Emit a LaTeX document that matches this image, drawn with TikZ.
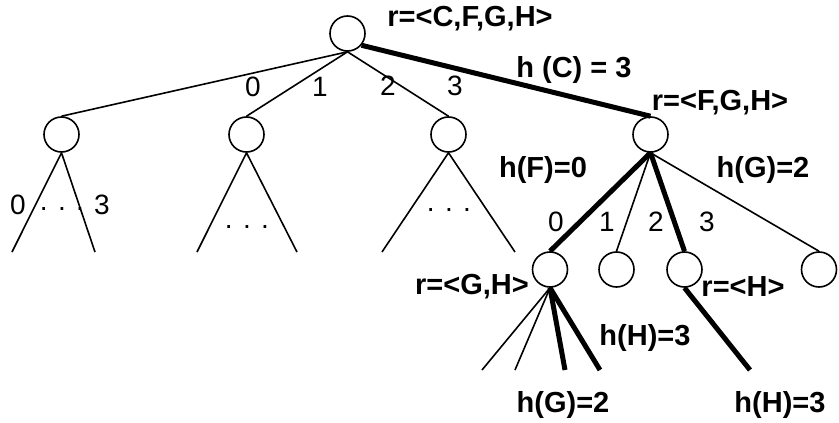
\documentclass[tikz,border=0pt]{standalone}
\usepackage{fontspec}
\setmainfont{Liberation Sans}
\begin{document}
\begin{tikzpicture}[x=1pt,y=-1pt,
  vert/.style={circle,draw,line width=1.6pt,minimum size=35pt,inner sep=0pt},
  branch/.style={line width=1.6pt},
  bestbranch/.style={line width=5pt},
  lbl/.style={font=\fontsize{29}{33}\selectfont\bfseries,inner sep=0pt},
  num/.style={font=\fontsize{28}{32}\selectfont,inner sep=0pt}]
\useasboundingbox (0,0) rectangle (839,423);

% search tree vertices
\node[vert] (root) at (347.5,33.5) {};
\node[vert] (a1) at (61.5,134.5) {};
\node[vert] (a2) at (246.5,134.5) {};
\node[vert] (a3) at (448.5,134.5) {};
\node[vert] (a4) at (650.5,134.5) {};
\node[vert] (b1) at (550,269.5) {};
\node[vert] (b2) at (616.5,269.5) {};
\node[vert] (b3) at (684.5,269.5) {};
\node[vert] (b4) at (819,269.5) {};

% open ends of the unexpanded subtrees
\coordinate (a1l) at (12,252);  \coordinate (a1r) at (95,252);
\coordinate (a2l) at (197,252); \coordinate (a2r) at (297,252);
\coordinate (a3l) at (382,252); \coordinate (a3r) at (515,252);
\coordinate (b1a) at (482,370); \coordinate (b1b) at (515,370);
\coordinate (b1c) at (565,370); \coordinate (b1d) at (600,370);
\coordinate (b3a) at (750,370);

% first level
\draw[branch] (root.south) -- (a1.north);
\draw[branch] (root.south) -- (a2.north);
\draw[branch] (root.south) -- (a3.north);
\draw[bestbranch] (root.-40) -- (a4.north);

% collapsed subtrees
\draw[branch] (a1l) -- (a1.south) -- (a1r);
\draw[branch] (a2l) -- (a2.south) -- (a2r);
\draw[branch] (a3l) -- (a3.south) -- (a3r);

% second level
\draw[bestbranch] (a4.south) -- (b1.north);
\draw[branch] (a4.south) -- (b2.north);
\draw[bestbranch] (a4.south) -- (b3.north);
\draw[branch] (a4.south) -- (b4.north);

% third level
\draw[branch] (b1.south) -- (b1a);
\draw[branch] (b1.south) -- (b1b);
\draw[bestbranch] (b1.south) -- (b1c);
\draw[bestbranch] (b1.south) -- (b1d);
\draw[bestbranch] (b3.south) -- (b3a);

% branch numbers
\node[num] (n0) at (253,87) {0};
\node[num] (n1) at (320,87) {1};
\node[num] (n2) at (388,86) {2};
\node[num] (n3) at (455,86) {3};
\node[num] (m0) at (556,222) {0};
\node[num] (m1) at (607,222) {1};
\node[num] (m2) at (656,222) {2};
\node[num] (m3) at (707,222) {3};
\node[num] (k0) at (18,205) {0};
\node[num] (k3) at (102,205) {3};
\node[num] (d1) at (62,209) {. . .};
\node[num] (d2) at (247,227) {. . .};
\node[num] (d3) at (449,210) {. . .};

% remaining sets and costs
\node[lbl] (t1) at (470,19) {r=<C,F,G,H>};
\node[lbl] (t2) at (574,70) {h (C) = 3};
\node[lbl] (t3) at (720,103) {r=<F,G,H>};
\node[lbl] (t4) at (543,170) {h(F)=0};
\node[lbl] (t5) at (763,170) {h(G)=2};
\node[lbl] (t6) at (472,287) {r=<G,H>};
\node[lbl] (t7) at (743,287) {r=<H>};
\node[lbl] (t8) at (645,338) {h(H)=3};
\node[lbl] (t9) at (563,405) {h(G)=2};
\node[lbl] (t10) at (780,405) {h(H)=3};
\end{tikzpicture}
\end{document}
